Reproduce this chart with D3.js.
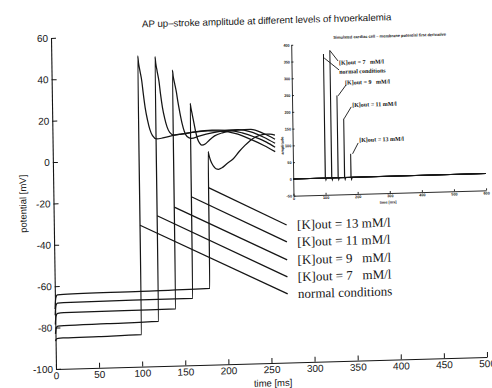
<!DOCTYPE html>
<html>
<head>
<meta charset="utf-8">
<script src="https://cdn.jsdelivr.net/npm/d3@7"></script>
<style>
  html, body { margin: 0; padding: 0; background: #fff; }
  svg { display: block; }
  .sans { font-family: "Liberation Sans", Arial, Helvetica, sans-serif; }
  .serif { font-family: "Liberation Serif", "Times New Roman", serif; }
</style>
</head>
<body>
<svg id="chart" width="492" height="388"></svg>
<script>
// ---- Main panel: membrane potential [mV] against time [ms] ----
const conditions = ["normal conditions", "[K]out = 7   mM/l", "[K]out = 9   mM/l", "[K]out = 11 mM/l", "[K]out = 13 mM/l"];
const stimTimes = [100, 120, 140, 160, 180];

const traceNormal = [[0,-86.5],[0.6,-85.8],[1.5,-85.4],[3,-85.2],[10,-85.1],[50,-84.9],[99.8,-84.6],
  [100.2,50.2],[101,47],[102.5,43],[104.5,38],[106,32],[108,25],[110.5,19],[113,14.5],[116,11.5],[121,9.8],
  [128,10.2],[140,11.3],[160,12.4],[180,13],[200,12.6],[215,11],[230,8.3],[245,5.2],[258,2.1]];
const traceK7 = [[0,-83],[0.6,-81],[1.5,-79.8],[3,-79.3],[10,-79.1],[60,-78.8],[119.8,-78.4],
  [120.2,49.6],[121,46.5],[122.5,42.5],[124.5,37.5],[126,31.5],[128,25],[130.5,19.5],[133,15.5],[136,12.8],[141,11.4],
  [150,11.8],[165,12.7],[185,13.3],[205,13],[220,11.6],[235,9.3],[248,6.8],[258,4.2]];
const traceK9 = [[0,-78.5],[0.6,-75.5],[1.5,-73.8],[3,-73.1],[10,-72.9],[80,-72.7],[139.8,-72.6],
  [140.2,42.9],[141,40],[142.5,36.5],[144.5,32],[146,27.5],[148,22.5],[150.5,17],[153,13],[156,10.6],[161,9.6],
  [170,10.6],[185,12],[200,12.9],[215,13.2],[230,12],[245,9.2],[258,6.1]];
const traceK11 = [[0,-74],[0.6,-70.5],[1.5,-68.8],[3,-68.2],[10,-68],[90,-67.8],[159.8,-67.7],
  [160.2,26.6],[161,24.5],[162.5,21],[164.5,16.5],[166,13],[168,9.5],[170.5,7.2],[173,6.2],[177,6.7],[182,8.6],
  [188,10.5],[198,12],[215,13],[230,13.2],[245,11],[258,8.1]];
const traceK13 = [[0,-71],[0.6,-67],[1.5,-65],[3,-64.2],[10,-64],[100,-63.6],[179.8,-63.1],
  [180.2,3.0],[181,1.5],[183,-1.5],[186,-4],[189,-5.4],[192,-5.7],[196,-5],[202,-3],[209,-0.9],[216,2.5],
  [223,5.5],[229,7.7],[236,9.5],[245,10.6],[252,10.6],[258,10.1]];
const traces = [traceNormal, traceK7, traceK9, traceK11, traceK13];

// label pointers: start on each upstroke, end beside its label
const leaderStartV = [-31.7, -27.3, -23.4, -18.6, -14.4];
const leaderEndT = 270;
const leaderEndV = [-66.8, -58.6, -50.4, -41.7, -33.5];
const labelT = 282;

const xTicks = [0, 50, 100, 150, 200, 250, 300, 350, 400, 450, 500];
const yTicks = [-100, -80, -60, -40, -20, 0, 20, 40, 60];

// ---- Inset: first derivative of the membrane potential ----
const dNormal = [[0,0],[99.7,0],[100,370],[100.4,0],[101.8,-6],[104,0],[600,0]];
const dK7  = [[0,0],[119.7,0],[120,380],[120.4,0],[121.8,-6],[124,0],[600,0]];
const dK9  = [[0,0],[139.7,0],[140,245],[140.4,0],[141.8,-6],[144,0],[600,0]];
const dK11 = [[0,0],[159.7,0],[160,175],[160.4,0],[161.8,-6],[164,0],[600,0]];
const dK13 = [[0,0],[179.7,0],[180,70],[180.4,0],[181.8,-6],[184,0],[600,0]];
const derivTraces = [dNormal, dK7, dK9, dK11, dK13];

// inset pointers and labels, in inset units (ms, amplitude)
const insetLeaderStart = [[102,358],[120,380],[143.6,244],[161,175],[186,70]];
const insetLeaderEnd   = [[148,321],[145,348],[169,276],[184,210],[204,102]];
const insetLabelPos    = [[148,316],[148,343],[166,283],[187,216],[207,111]];

const insetXTicks = [0, 100, 200, 300, 400, 500, 600];
const insetYTicks = [-50, 0, 50, 100, 150, 200, 250, 300, 350, 400];

// ------------------------------------------------------------------
const svg = d3.select("#chart");
svg.append("rect").attr("width", 492).attr("height", 388).attr("fill", "#fff");

// the printed sheet sits slightly askew
const page = svg.append("g")
  .attr("transform", "matrix(1,-0.02784,0.01511,1,-5.576,1.559)");

const ink = "#151515";

const x = d3.scaleLinear().domain([0, 500]).range([56, 487]);
const y = d3.scaleLinear().domain([-100, 60]).range([369, 38]);

function styleAxis(sel, size, weight) {
  sel.selectAll("path.domain").attr("stroke", ink).attr("stroke-width", 1.1);
  sel.selectAll(".tick line").attr("stroke", ink).attr("stroke-width", 1);
  sel.selectAll(".tick text").attr("fill", ink).attr("font-weight", weight || "normal")
    .attr("font-family", '"Liberation Sans", Arial, sans-serif').attr("font-size", size);
}

page.append("g").attr("transform", "translate(0,369)")
  .call(d3.axisBottom(x).tickValues(xTicks).tickSizeInner(-5).tickSizeOuter(0).tickPadding(3).tickFormat(d => String(d)))
  .call(s => styleAxis(s, 10));
page.append("g").attr("transform", "translate(56,0)")
  .call(d3.axisLeft(y).tickValues(yTicks).tickSizeInner(-5).tickSizeOuter(0).tickPadding(3).tickFormat(d => String(d)))
  .call(s => styleAxis(s, 10));

const line = d3.line().x(d => x(d[0])).y(d => y(d[1])).curve(d3.curveMonotoneX);
page.append("g").selectAll("path").data(traces).join("path")
  .attr("d", line).attr("fill", "none").attr("stroke", ink).attr("stroke-width", 1.25)
  .attr("stroke-linejoin", "round");

page.append("g").selectAll("line").data(stimTimes).join("line")
  .attr("x1", (d) => x(d)).attr("y1", (d, i) => y(leaderStartV[i]))
  .attr("x2", x(leaderEndT)).attr("y2", (d, i) => y(leaderEndV[i]))
  .attr("stroke", ink).attr("stroke-width", 1.25);

page.append("g").selectAll("text").data(conditions).join("text")
  .attr("class", "serif")
  .attr("x", x(labelT)).attr("y", (d, i) => y(leaderEndV[i])).attr("dy", "0.35em")
  .attr("font-size", 13).attr("fill", ink).style("white-space", "pre")
  .text(d => d);

page.append("text").attr("class", "sans")
  .attr("x", 271.8).attr("y", 26.5).attr("dy", "0.35em").attr("text-anchor", "middle")
  .attr("font-size", 9.7).attr("fill", ink)
  .text("AP up\u2013stroke amplitude at different levels of hyperkalemia");
page.append("text").attr("class", "sans")
  .attr("transform", "translate(25.5,203) rotate(-90)").attr("dy", "0.35em").attr("text-anchor", "middle")
  .attr("font-size", 9.5).attr("fill", ink).text("potential [mV]");
page.append("text").attr("class", "sans")
  .attr("x", 272.8).attr("y", 389).attr("dy", "0.35em").attr("text-anchor", "middle")
  .attr("font-size", 9.5).attr("fill", ink).text("time [ms]");

// ---- inset panel ----
const inset = page.append("g");
inset.append("rect").attr("x", 281).attr("y", 30).attr("width", 215).attr("height", 186).attr("fill", "#fff");

const ix = d3.scaleLinear().domain([0, 600]).range([296, 488.6]);
const iy = d3.scaleLinear().domain([-50, 400]).range([202.4, 51.5]);

inset.append("g").attr("transform", "translate(0,202.4)")
  .call(d3.axisBottom(ix).tickValues(insetXTicks).tickSizeInner(-2).tickSizeOuter(0).tickPadding(1.5).tickFormat(d => String(d)))
  .call(s => styleAxis(s, 3.8, "bold"))
  .call(s => s.selectAll("path.domain,.tick line").attr("stroke-width", 0.9));
inset.append("g").attr("transform", "translate(296,0)")
  .call(d3.axisLeft(iy).tickValues(insetYTicks).tickSizeInner(-2).tickSizeOuter(0).tickPadding(1.5).tickFormat(d => String(d)))
  .call(s => styleAxis(s, 3.8, "bold"))
  .call(s => s.selectAll("path.domain,.tick line").attr("stroke-width", 0.9));

const iline = d3.line().x(d => ix(d[0])).y(d => iy(d[1]));
inset.append("g").selectAll("path").data(derivTraces).join("path")
  .attr("d", iline).attr("fill", "none").attr("stroke", ink).attr("stroke-width", 1);

inset.append("g").selectAll("line").data(insetLeaderStart).join("line")
  .attr("x1", d => ix(d[0])).attr("y1", d => iy(d[1]))
  .attr("x2", (d, i) => ix(insetLeaderEnd[i][0])).attr("y2", (d, i) => iy(insetLeaderEnd[i][1]))
  .attr("stroke", ink).attr("stroke-width", 0.9);

inset.append("g").selectAll("text").data(conditions).join("text")
  .attr("class", "serif")
  .attr("x", (d, i) => ix(insetLabelPos[i][0])).attr("y", (d, i) => iy(insetLabelPos[i][1])).attr("dy", "0.35em")
  .attr("font-size", 6).attr("font-weight", "bold").attr("fill", ink).style("white-space", "pre")
  .text(d => d);

inset.append("text").attr("class", "sans")
  .attr("x", 394.5).attr("y", 45.3).attr("dy", "0.35em").attr("text-anchor", "middle")
  .attr("font-size", 4).attr("font-weight", "bold").attr("fill", ink)
  .text("Simulated cardiac cell \u2013 membrane potential first derivative");
inset.append("text").attr("class", "sans")
  .attr("transform", "translate(285.6,152) rotate(-90)").attr("dy", "0.35em").attr("text-anchor", "middle")
  .attr("font-size", 3.8).attr("font-weight", "bold").attr("fill", ink).text("amplitude");
inset.append("text").attr("class", "sans")
  .attr("x", 390.5).attr("y", 211.5).attr("dy", "0.35em").attr("text-anchor", "middle")
  .attr("font-size", 3.8).attr("font-weight", "bold").attr("fill", ink).text("time [ms]");
</script>
</body>
</html>
